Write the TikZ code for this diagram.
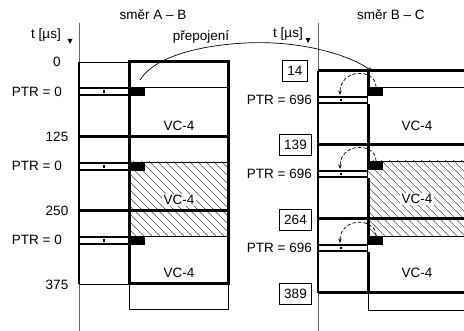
\documentclass[tikz,border=0pt]{standalone}
\usepackage{fontspec}
\setmainfont{Liberation Sans}
\usetikzlibrary{arrows.meta}
\begin{document}
\begin{tikzpicture}[x=1pt,y=-1pt,
  lbl/.style={font=\fontsize{13.5}{16}\selectfont, inner sep=0pt},
  thk/.style={line width=3pt},
  thn/.style={line width=0.9pt},
  numbox/.style={lbl, draw, line width=0.9pt, inner xsep=5pt, minimum height=21pt},
  axisline/.style={line width=0.8pt, draw=black!60},
  hatchline/.style={line width=0.5pt, draw=black!70},
  ptrbar/.style={line width=2.4pt},
  dsh/.style={dash pattern=on 3.5pt off 2pt, line width=0.7pt, -{Stealth[length=4.5pt,width=3.5pt]}},
  mainarrow/.style={line width=0.7pt, -{Stealth[length=6pt,width=4pt]}},
]
\useasboundingbox (0,0) rectangle (464,331);

% ---------- titles ----------
\node[lbl] (tAB) at (153,15) {směr A – B};
\node[lbl] (tBC) at (391,15) {směr B – C};
\node[lbl] (tL) at (46,35) {t [µs]};
\node[lbl] (tR) at (288,34) {t [µs]};
\fill (67.5,39) -- (72.5,39) -- (70,44) -- cycle;
\fill (305.5,38) -- (310.5,38) -- (308,43) -- cycle;

% ---------- left diagram ----------
\draw[axisline] (79,23) -- (79,331);
\begin{scope}
  \clip (129,162) rectangle (228,236);
  \foreach \x in {42,50,...,234} \draw[hatchline] (\x,158) -- ++(84,84);
\end{scope}
\draw[line width=1.3pt] (79,62) -- (79,284);
\draw[thn] (79,62) -- (129,62);
\draw[thn] (79,284) -- (129,284);
\foreach \y in {87,162,236} \draw[thn] (145,\y) -- (228,\y);
\draw[thn] (129,284) -- (129,309) -- (228,309) -- (228,284);
\draw[thk] (79,137) -- (228,137);
\draw[thk] (79,211) -- (228,211);
\draw[thk, line join=miter] (129,62) rectangle (228,284);
\foreach \y in {87,162,236} {
  \fill[white] (80,\y) rectangle (128,\y+9);
  \draw[ptrbar] (79,\y+1.2) -- (129,\y+1.2);
  \draw[ptrbar] (79,\y+7.8) -- (129,\y+7.8);
  \fill (102.8,\y+3.2) rectangle ++(2.6,2.6);
  \fill (129,\y) rectangle (145,\y+9);
}
\node[lbl] (l0) at (57,62) {0};
\node[lbl] (l125) at (57,137) {125};
\node[lbl] (l250) at (57,211) {250};
\node[lbl] (l375) at (57,285) {375};
\node[lbl, anchor=east] (p1) at (62,91.5) {PTR = 0};
\node[lbl, anchor=east] (p2) at (62,166) {PTR = 0};
\node[lbl, anchor=east] (p3) at (62,240) {PTR = 0};
\node[lbl] (v1) at (179,126) {VC-4};
\node[lbl, fill=white, inner sep=1.5pt] (v2) at (179,200) {VC-4};
\node[lbl] (v3) at (179,273) {VC-4};

% ---------- right diagram ----------
\draw[axisline] (318,23) -- (318,331);
\begin{scope}
  \clip (368,161) rectangle (466,236);
  \foreach \x in {282,290,...,470} \draw[hatchline] (\x,157) -- ++(84,84);
\end{scope}
\draw[line width=1.3pt] (318,71) -- (318,293);
\foreach \y in {87,161,236} \draw[thn] (383,\y) -- (466,\y);
\draw[thn] (368,293) -- (368,310) -- (466,310);
\foreach \y in {71,145,219,293} \draw[thk] (318,\y) -- (466,\y);
\draw[thk] (368,69.5) -- (368,96);
\draw[thk] (368,104) -- (368,170);
\draw[thk] (368,178) -- (368,244);
\draw[thk] (368,252) -- (368,294.5);
\foreach \y in {96,170,244} {
  \fill[white] (319,\y) rectangle (367,\y+8);
  \draw[ptrbar] (318,\y+1.2) -- (368,\y+1.2);
  \draw[ptrbar] (318,\y+6.8) -- (368,\y+6.8);
  \draw[thn] (367.5,\y) -- (367.5,\y+8);
  \fill (339.7,\y+2.7) rectangle ++(2.6,2.6);
}
\foreach \y in {87,161,236} \fill (366.5,\y) rectangle (383,\y+9);
\node[numbox] (n14) at (295,71) {14};
\node[numbox] (n139) at (295.5,145) {139};
\node[numbox] (n264) at (295.5,219.5) {264};
\node[numbox] (n389) at (295.5,294) {389};
\node[lbl, anchor=east] (q1) at (312,100) {PTR = 696};
\node[lbl, anchor=east] (q2) at (312,174) {PTR = 696};
\node[lbl, anchor=east] (q3) at (312,248) {PTR = 696};
\node[lbl] (w1) at (417,126) {VC-4};
\node[lbl, fill=white, inner sep=1.5pt] (w2) at (417,199) {VC-4};
\node[lbl] (w3) at (417,273) {VC-4};

% dashed pointer arcs
\coordinate (a1s) at (376,87);  \coordinate (a1e) at (340,95);
\coordinate (a2s) at (376,161); \coordinate (a2e) at (340,169);
\coordinate (a3s) at (376,236); \coordinate (a3e) at (340,243);
\draw[dsh] (a1s) .. controls (376,68) and (340,68) .. (a1e);
\draw[dsh] (a2s) .. controls (376,142) and (340,142) .. (a2e);
\draw[dsh] (a3s) .. controls (376,217) and (340,217) .. (a3e);

% main switching arrow
\coordinate (src) at (140,80);
\coordinate (tip) at (373,72);
\draw[mainarrow] (src) .. controls (152,60) and (190,46) .. (245,43) .. controls (300,40) and (350,55) .. (tip);
\node[lbl] (prep) at (201,37) {přepojení};
\end{tikzpicture}
\end{document}
